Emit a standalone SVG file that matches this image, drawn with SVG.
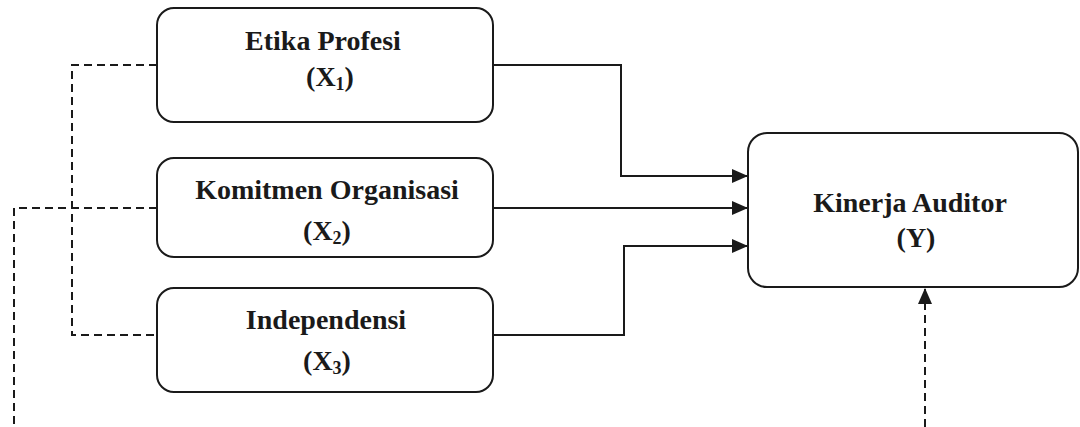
<svg xmlns="http://www.w3.org/2000/svg" width="1080" height="427" viewBox="0 0 1080 427">
  <defs>
    <style>
      .box { fill: #ffffff; stroke: #1a1a1a; stroke-width: 2; }
      .lbl { font-family: "Liberation Serif", "Times New Roman", serif; font-weight: bold; font-size: 28px; fill: #1a1a1a; text-anchor: middle; }
      .sub { font-size: 18px; }
      .conn { fill: none; stroke: #1a1a1a; stroke-width: 2; }
      .dash { fill: none; stroke: #1a1a1a; stroke-width: 2; stroke-dasharray: 8 5; }
    </style>
    <marker id="arrow" viewBox="0 0 16 14" refX="16" refY="7" markerWidth="16" markerHeight="14" markerUnits="userSpaceOnUse" orient="auto">
      <path d="M0,0 L16,7 L0,14 Z" fill="#1a1a1a"/>
    </marker>
  </defs>
  <rect width="1080" height="427" fill="#ffffff"/>

  <g id="connectors">
    <path class="conn" d="M493,65 H621 V176 H748" marker-end="url(#arrow)"/>
    <path class="conn" d="M493,208 H748" marker-end="url(#arrow)"/>
    <path class="conn" d="M493,335 H624 V246 H748" marker-end="url(#arrow)"/>
    <path class="dash" d="M157,65 H72 V335 H157"/>
    <path class="dash" d="M157,208 H14 V427"/>
    <path class="dash" d="M925,427 V288" marker-end="url(#arrow)"/>
  </g>

  <g id="node-x1">
    <rect class="box" x="157" y="8" width="336" height="114" rx="17"/>
    <text class="lbl" x="323" y="50">Etika Profesi</text>
    <text class="lbl" x="330" y="86">(X<tspan class="sub" dy="4">1</tspan><tspan dy="-4">)</tspan></text>
  </g>

  <g id="node-x2">
    <rect class="box" x="157" y="158" width="336" height="99" rx="17"/>
    <text class="lbl" x="327" y="199">Komitmen Organisasi</text>
    <text class="lbl" x="327" y="240">(X<tspan class="sub" dy="4">2</tspan><tspan dy="-4">)</tspan></text>
  </g>

  <g id="node-x3">
    <rect class="box" x="157" y="288" width="336" height="104" rx="17"/>
    <text class="lbl" x="326" y="329">Independensi</text>
    <text class="lbl" x="327" y="370">(X<tspan class="sub" dy="4">3</tspan><tspan dy="-4">)</tspan></text>
  </g>

  <g id="node-y">
    <rect class="box" x="748" y="133" width="330" height="154" rx="19"/>
    <text class="lbl" x="910" y="212">Kinerja Auditor</text>
    <text class="lbl" x="916" y="247">(Y)</text>
  </g>
</svg>
